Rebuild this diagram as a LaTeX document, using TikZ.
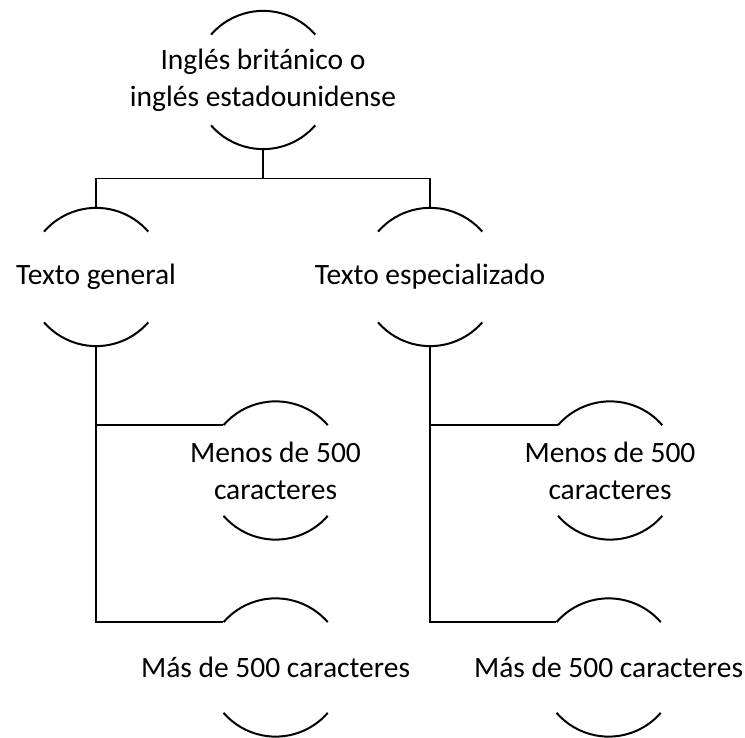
\documentclass[tikz,border=0pt]{standalone}
\usepackage{fontspec}
\setmainfont{Carlito}
\tikzset{
	bubble/.style={circle, minimum size=138pt, inner sep=0pt},
	lbl/.style={align=center, inner sep=0pt, font=\fontsize{29.5}{37}\selectfont},
	rim/.style={line width=2pt},
	link/.style={line width=1.2pt},
}
\begin{document}
\begin{tikzpicture}[x=1pt,y=1pt]
		\useasboundingbox (0,0) rectangle (745,738);
		
		% Place bubbles
		\node[bubble, label={[lbl]center:Inglés británico o\\inglés estadounidense}] (root) at (263,658) {};
		\node[bubble, label={[lbl]center:Texto general}] (gen) at (96,461) {};
		\node[bubble, label={[lbl]center:Texto especializado}] (esp) at (430,461) {};
		\node[bubble, label={[lbl]center:Menos de 500\\caracteres}] (genmenos) at (275.5,267.5) {};
		\node[bubble, label={[lbl]center:Menos de 500\\caracteres}] (espmenos) at (610,267.5) {};
		\node[bubble, label={[lbl]center:Más de 500 caracteres}] (genmas) at (275.5,70.5) {};
		\node[bubble, label={[lbl]center:Más de 500 caracteres}] (espmas) at (608.5,70.5) {};
		
		% Draw rims
		\foreach \n in {root,gen,esp,genmenos,espmenos,genmas,espmas} {
			\draw[rim] (\n.41) arc[start angle=41, end angle=139, radius=69pt];
			\draw[rim] (\n.-41) arc[start angle=-41, end angle=-139, radius=69pt];
		}
		
		% Draw connectors
		\draw[link] (root.270) -- ++(0,-29) coordinate (split);
		\draw[link] (gen.90) |- (split) -| (esp.90);
		\draw[link] (gen.270) |- (genmenos.139);
		\draw[link] (gen.270) |- (genmas.139);
		\draw[link] (esp.270) |- (espmenos.139);
		\draw[link] (esp.270) |- (espmas.139);
		
	\end{tikzpicture}
\end{document}
